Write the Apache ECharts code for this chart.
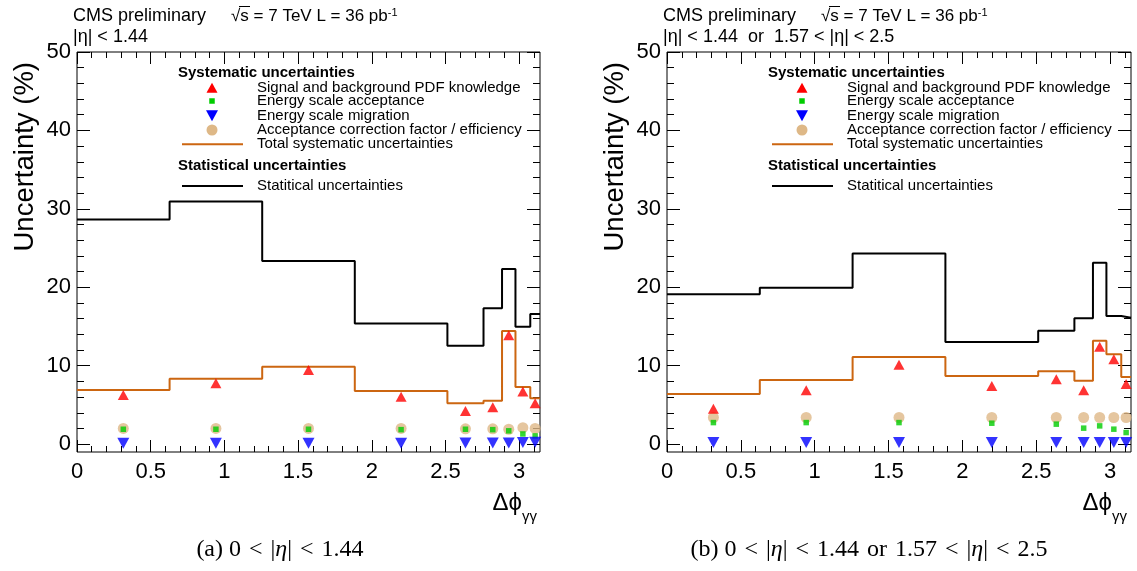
<!DOCTYPE html>
<html>
<head>
<meta charset="utf-8">
<script src="https://cdn.jsdelivr.net/npm/echarts@6/dist/echarts.min.js"></script>
<style>
  html, body { margin: 0; padding: 0; background: #ffffff; }
  #chart { width: 1137px; height: 571px; }
</style>
</head>
<body>
<div id="chart"></div>
<script>
// Δφγγ bin edges, in units of π
const binEdgesPi = [0, 0.2, 0.4, 0.6, 0.8, 0.878, 0.918, 0.947, 0.979, 1];

// (a) 0 < |η| < 1.44 — relative uncertainties in %
const statA      = [28.65, 30.95, 23.34, 15.38, 12.56, 17.32, 22.33, 14.98, 16.6];
const systA      = [6.92, 8.35, 9.88, 6.79, 5.22, 5.55, 14.43, 7.3, 5.86];
const pdfA       = [6.28, 7.77, 9.46, 6.06, 4.24, 4.71, 13.88, 6.7, 5.22];
const escaleAccA = [1.9, 1.9, 1.9, 1.85, 1.9, 1.85, 1.7, 1.3, 1.05];
const escaleMigA = [0.1, 0.1, 0.1, 0.1, 0.15, 0.15, 0.15, 0.2, 0.25];
const accCorrA   = [2.0, 2.0, 2.0, 2.0, 1.95, 1.95, 1.9, 2.1, 2.0];

// (b) 0 < |η| < 1.44 or 1.57 < |η| < 2.5
const statB      = [19.1, 19.94, 24.32, 13.03, 14.47, 16.05, 23.13, 16.34, 16.12];
const systB      = [6.41, 8.19, 11.12, 8.7, 9.3, 8.1, 13.19, 11.46, 8.57];
const pdfB       = [4.53, 6.88, 10.12, 7.42, 8.28, 6.88, 12.43, 10.83, 7.68];
const escaleAccB = [2.75, 2.75, 2.75, 2.67, 2.55, 2.04, 2.33, 1.91, 1.48];
const escaleMigB = [0.2, 0.2, 0.2, 0.2, 0.2, 0.2, 0.2, 0.2, 0.2];
const accCorrB   = [3.4, 3.4, 3.4, 3.4, 3.4, 3.4, 3.4, 3.4, 3.4];

// axis tick labels
const xTickLabels = [0, 0.5, 1, 1.5, 2, 2.5, 3];
const yTickLabels = [0, 10, 20, 30, 40, 50];

// legend entries
const NAME_PDF  = 'Signal and background PDF knowledge';
const NAME_ACC  = 'Energy scale acceptance';
const NAME_MIG  = 'Energy scale migration';
const NAME_CORR = 'Acceptance correction factor / efficiency';
const NAME_SYST = 'Total systematic uncertainties';
const NAME_STAT = 'Statitical uncertainties';

const PI = Math.PI;
const SANS = '"Liberation Sans", Arial, Helvetica, sans-serif';
const SERIF = '"Liberation Serif", "DejaVu Serif", serif';
const ORANGE = '#cc6611';
const RED = '#ff0000';
const GREEN = '#00cc00';
const BLUE = '#0000ff';
const TAN = '#deb887';

const EDGES = binEdgesPi.map(e => e * PI);
const CENTRES = EDGES.slice(0, -1).map((e, i) => (e + EDGES[i + 1]) / 2);

// histogram outline: flat segment across each bin
function histLine(vals) {
  const pts = [];
  vals.forEach((v, i) => { pts.push([EDGES[i], v]); pts.push([EDGES[i + 1], v]); });
  return pts;
}
function binPoints(vals) { return vals.map((v, i) => [CENTRES[i], v]); }

const xMinor = []; for (let k = 0; k <= 31; k++) xMinor.push(+(k / 10).toFixed(1));
const yMinor = []; for (let k = 0; k <= 25; k++) yMinor.push(2 * k);

// math-style spacing around relations in the sub-figure captions
const SP = '\u2004';
const REL = SP + '<' + SP;

const panels = [
  { left: 77, width: 463, dx: 0, stat: statA, syst: systA, pdf: pdfA, acc: escaleAccA, mig: escaleMigA, corr: accCorrA,
    etaText: '|η| < 1.44', tag: '(a)', both: false, capX: 280 },
  { left: 667, width: 464, dx: 590, stat: statB, syst: systB, pdf: pdfB, acc: escaleAccB, mig: escaleMigB, corr: accCorrB,
    etaText: '|η| < 1.44  or  1.57 < |η| < 2.5', tag: '(b)', both: true, capX: 869 }
];

const grids = [], xAxes = [], yAxes = [], series = [], graphics = [];
const tickStyle = { color: '#000', width: 1 };

const txt = (x, y, text, extra) => ({ type: 'text', x, y, silent: true,
  style: Object.assign({ text, fill: '#000', fontFamily: SANS, fontSize: 18,
                         textAlign: 'left', textVerticalAlign: 'middle' }, extra || {}) });

panels.forEach((p, g) => {
  grids.push({ left: p.left, top: 52, width: p.width, height: 400, show: true,
               borderColor: '#000', borderWidth: 1, backgroundColor: 'transparent' });

  const xb = { type: 'value', gridIndex: g, min: 0, max: PI, splitLine: { show: false },
               axisLine: { show: false, onZero: false } };
  xAxes.push(
    { ...xb, position: 'bottom',
      axisTick: { inside: true, length: 12, customValues: xTickLabels, lineStyle: tickStyle },
      axisLabel: { customValues: xTickLabels, fontSize: 22, fontFamily: SANS, color: '#000', margin: 9 } },
    { ...xb, position: 'bottom', axisTick: { inside: true, length: 6, customValues: xMinor, lineStyle: tickStyle },
      axisLabel: { show: false } },
    { ...xb, position: 'top', axisTick: { inside: true, length: 12, customValues: xTickLabels, lineStyle: tickStyle },
      axisLabel: { show: false } },
    { ...xb, position: 'top', axisTick: { inside: true, length: 6, customValues: xMinor, lineStyle: tickStyle },
      axisLabel: { show: false } }
  );

  const yb = { type: 'value', gridIndex: g, min: -1, max: 50, splitLine: { show: false },
               axisLine: { show: false, onZero: false } };
  yAxes.push(
    { ...yb, position: 'left',
      axisTick: { inside: true, length: 13, customValues: yTickLabels, lineStyle: tickStyle },
      axisLabel: { customValues: yTickLabels, fontSize: 22, fontFamily: SANS, color: '#000', margin: 6 } },
    { ...yb, position: 'left', axisTick: { inside: true, length: 7, customValues: yMinor, lineStyle: tickStyle },
      axisLabel: { show: false } },
    { ...yb, position: 'right', axisTick: { inside: true, length: 13, customValues: yTickLabels, lineStyle: tickStyle },
      axisLabel: { show: false } },
    { ...yb, position: 'right', axisTick: { inside: true, length: 7, customValues: yMinor, lineStyle: tickStyle },
      axisLabel: { show: false } }
  );

  const ax = { xAxisIndex: 4 * g, yAxisIndex: 4 * g };
  series.push(
    { ...ax, type: 'line', name: NAME_STAT, data: histLine(p.stat), symbol: 'none',
      lineStyle: { color: '#000', width: 2 }, itemStyle: { color: '#000' }, z: 2 },
    { ...ax, type: 'line', name: NAME_SYST, data: histLine(p.syst), symbol: 'none',
      lineStyle: { color: ORANGE, width: 2 }, itemStyle: { color: ORANGE }, z: 2 },
    { ...ax, type: 'scatter', name: NAME_CORR, data: binPoints(p.corr), symbol: 'circle', symbolSize: 11,
      itemStyle: { color: TAN }, z: 3 },
    { ...ax, type: 'scatter', name: NAME_ACC, data: binPoints(p.acc), symbol: 'rect', symbolSize: 5.5,
      itemStyle: { color: GREEN }, z: 4 },
    { ...ax, type: 'scatter', name: NAME_MIG, data: binPoints(p.mig), symbol: 'triangle', symbolRotate: 180,
      symbolSize: [12, 11], itemStyle: { color: BLUE }, z: 5 },
    { ...ax, type: 'scatter', name: NAME_PDF, data: binPoints(p.pdf), symbol: 'triangle',
      symbolSize: [11, 10], itemStyle: { color: RED }, z: 6 }
  );

  // key: symbol column centred at mx, line samples from l0 to l1, labels from tx
  const mx = 212 + p.dx, l0 = 182 + p.dx, l1 = 243 + p.dx, tx = 257 + p.dx;
  const keyRows = [
    [NAME_PDF, 87.7], [NAME_ACC, 101], [NAME_MIG, 115.7],
    [NAME_CORR, 130], [NAME_SYST, 144.3], [NAME_STAT, 186]
  ];
  keyRows.forEach(([name, cy]) => {
    graphics.push(txt(tx, cy, name, { fontSize: 15 }));
    let icon;
    if (name === NAME_PDF) {
      icon = { type: 'polygon', shape: { points: [[mx - 5.5, cy + 5], [mx + 5.5, cy + 5], [mx, cy - 5]] }, style: { fill: RED } };
    } else if (name === NAME_ACC) {
      icon = { type: 'rect', shape: { x: mx - 2.75, y: cy - 2.75, width: 5.5, height: 5.5 }, style: { fill: GREEN } };
    } else if (name === NAME_MIG) {
      icon = { type: 'polygon', shape: { points: [[mx - 6, cy - 5.5], [mx + 6, cy - 5.5], [mx, cy + 5.5]] }, style: { fill: BLUE } };
    } else if (name === NAME_CORR) {
      icon = { type: 'circle', shape: { cx: mx, cy: cy, r: 5.5 }, style: { fill: TAN } };
    } else {
      icon = { type: 'line', shape: { x1: l0, y1: cy, x2: l1, y2: cy },
               style: { stroke: name === NAME_SYST ? ORANGE : '#000', lineWidth: 2 } };
    }
    icon.silent = true;
    graphics.push(icon);
  });

  const capBody = '{r|' + p.tag + ' 0' + REL + '|}{i|η}{r||' + REL + '1.44' +
    (p.both ? SP + 'or' + SP + '1.57' + REL + '|}{i|η}{r||' + REL + '2.5' : '') + '}';

  graphics.push(
    txt(73 + p.dx, 16, 'CMS preliminary'),
    txt(231 + p.dx, 16, '', { text: '{n|√s = 7 TeV L = 36 pb}{sup|-1}',
      rich: { n: { fontSize: 17, fontFamily: SANS, fill: '#000' },
              sup: { fontSize: 11, fontFamily: SANS, fill: '#000', verticalAlign: 'top' } } }),
    // vinculum of the square root, over the "s"
    { type: 'line', silent: true, shape: { x1: 239 + p.dx, y1: 6.5, x2: 250 + p.dx, y2: 6.5 },
      style: { stroke: '#000', lineWidth: 1 } },
    txt(73 + p.dx, 37, p.etaText),
    txt(178 + p.dx, 72.7, 'Systematic uncertainties', { fontSize: 15, fontWeight: 'bold' }),
    txt(178 + p.dx, 165.7, 'Statistical uncertainties', { fontSize: 15, fontWeight: 'bold' }),
    { type: 'text', x: 25 + p.dx, y: 62, rotation: PI / 2, silent: true,
      style: { text: 'Uncertainty (%)', fill: '#000', fontFamily: SANS, fontSize: 27.5,
               textAlign: 'right', textVerticalAlign: 'middle' } },
    txt(522 + p.dx, 503, 'Δϕ', { fontSize: 24, textAlign: 'right' }),
    txt(522 + p.dx, 517, 'γγ', { fontSize: 15 }),
    { type: 'text', x: p.capX, y: 550, silent: true,
      style: { text: capBody, textAlign: 'center', textVerticalAlign: 'middle',
               rich: { r: { fontFamily: SERIF, fontSize: 24, fill: '#000' },
                       i: { fontFamily: SERIF, fontSize: 24, fontStyle: 'italic', fill: '#000' } } } }
  );
});

const chart = echarts.init(document.getElementById('chart'), null, { renderer: 'canvas' });
chart.setOption({
  animation: false,
  backgroundColor: '#ffffff',
  grid: grids,
  xAxis: xAxes,
  yAxis: yAxes,
  series: series,
  graphic: graphics
});
</script>
</body>
</html>
